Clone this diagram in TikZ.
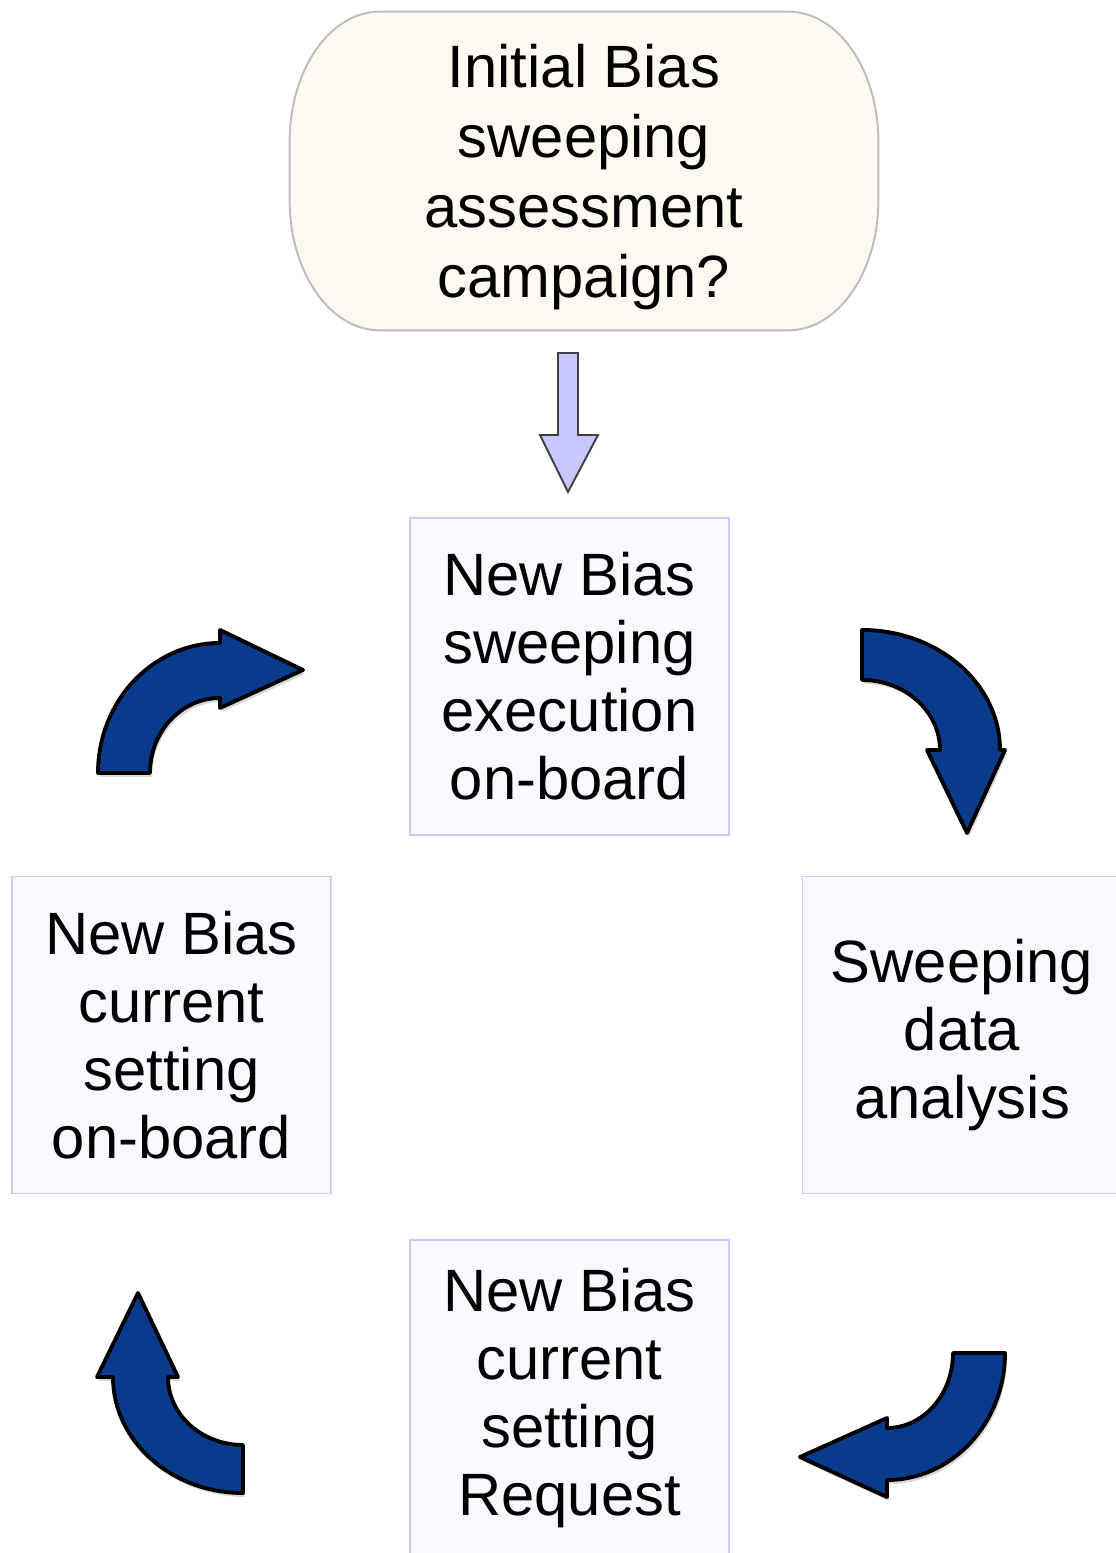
\documentclass[tikz,border=0pt]{standalone}
\usepackage{fontspec}
\setmainfont{Liberation Sans}
\usetikzlibrary{backgrounds,shadows}

\definecolor{cream}{HTML}{FDF9F0}
\definecolor{creamline}{HTML}{BDBDBD}
\definecolor{boxfill}{HTML}{F8F8FF}
\definecolor{boxline}{HTML}{C8CAFF}
\definecolor{lavender}{HTML}{C8C8FF}
\definecolor{loopblue}{HTML}{083B8C}

\tikzset{
    stepbox/.style={draw=boxline, fill=boxfill, line width=1.1pt,
        minimum width=6.38cm, minimum height=6.34cm, inner sep=0pt,
        align=center, font=\fontsize{34}{38.7}\selectfont},
    loop/.style={draw=black, fill=loopblue, line width=2.2pt, line join=round,
        drop shadow={opacity=0.3, shadow xshift=0.04cm, shadow yshift=-0.08cm}},
}

\begin{document}
\begin{tikzpicture}
        \useasboundingbox (0,0) rectangle (22.32,31.06);

        %%%%%%%%%% Nodi %%%%%%%%%%
        \node[minimum width=11.76cm, minimum height=6.36cm, inner sep=0pt,
              align=center, font=\fontsize{34}{39.8}\selectfont] (init) at (11.68,27.64)
              {\\[-0.28cm]Initial Bias\\sweeping\\assessment\\campaign?};
        \node[stepbox] (exec) at (11.39,17.53) {New Bias\\sweeping\\execution\\on-board};
        \node[stepbox] (analysis) at (19.24,10.36) {Sweeping\\data\\analysis};
        \node[stepbox] (request) at (11.39,3.09) {New Bias\\current\\setting\\Request};
        \node[stepbox] (onboard) at (3.43,10.36) {New Bias\\current\\setting\\on-board};

        \begin{scope}[on background layer]
            \draw[draw=creamline, fill=cream, line width=1.1pt]
                ([xshift=1.8cm]init.north west) -- ([xshift=-1.8cm]init.north east)
                arc[start angle=90, end angle=0, x radius=1.8, y radius=2.6]
                -- ([yshift=2.6cm]init.south east)
                arc[start angle=0, end angle=-90, x radius=1.8, y radius=2.6]
                -- ([xshift=1.8cm]init.south west)
                arc[start angle=270, end angle=180, x radius=1.8, y radius=2.6]
                -- ([yshift=-2.6cm]init.north west)
                arc[start angle=180, end angle=90, x radius=1.8, y radius=2.6] -- cycle;
        \end{scope}

        %%%%%%%%% Frecce %%%%%%%%%
        \draw[draw=black!75, fill=lavender, line width=1.1pt, line join=miter]
            (11.16,24.00) -- (11.56,24.00) -- (11.56,22.36) -- (11.96,22.36)
            -- (11.36,21.22) -- (10.80,22.36) -- (11.16,22.36) -- cycle;

        \draw[loop] (1.96,15.60) arc[start angle=180, end angle=90, x radius=2.44, y radius=2.60]
            -- (4.40,18.46) -- (6.06,17.66) -- (4.40,16.90) -- (4.40,17.10)
            arc[start angle=90, end angle=180, x radius=1.40, y radius=1.50] -- cycle;
        \draw[loop] (17.24,18.46) arc[start angle=90, end angle=0, x radius=2.76, y radius=2.40]
            -- (20.10,16.06) -- (19.34,14.40) -- (18.54,16.06) -- (18.80,16.06)
            arc[start angle=0, end angle=90, x radius=1.56, y radius=1.40] -- cycle;
        \draw[loop] (20.10,4.00) arc[start angle=0, end angle=-90, x radius=2.36, y radius=2.54]
            -- (17.74,1.12) -- (16.00,1.92) -- (17.74,2.70) -- (17.74,2.50)
            arc[start angle=-90, end angle=0, x radius=1.32, y radius=1.50] -- cycle;
        \draw[loop] (4.86,1.20) arc[start angle=270, end angle=180, x radius=2.60, y radius=2.32]
            -- (1.94,3.52) -- (2.76,5.20) -- (3.56,3.52) -- (3.36,3.52)
            arc[start angle=180, end angle=270, x radius=1.50, y radius=1.36] -- cycle;
    \end{tikzpicture}
\end{document}
